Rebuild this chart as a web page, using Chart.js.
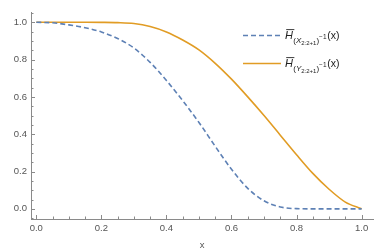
<!DOCTYPE html>
<html>
<head>
<meta charset="utf-8">
<script src="https://cdn.jsdelivr.net/npm/chart.js@4/dist/chart.umd.min.js"></script>
<style>
  html, body { margin: 0; padding: 0; background: #fff; }
  #wrap { width: 377px; height: 252px; position: relative; }
</style>
</head>
<body>
<div id="wrap"><canvas id="c" width="377" height="252"></canvas></div>
<script>
// ---- data ----
const xValues = [0, 0.05, 0.1, 0.15, 0.2, 0.25, 0.3, 0.35, 0.4, 0.45, 0.5, 0.55, 0.6, 0.65, 0.7, 0.75, 0.8, 0.85, 0.9, 0.95, 1.0];
const blueValues = [1.0, 0.997, 0.986, 0.971, 0.948, 0.913, 0.862, 0.785, 0.688, 0.58, 0.463, 0.335, 0.212, 0.11, 0.043, 0.01, 0.001, 0.0, 0.0, 0.0, 0.0];
const orangeValues = [1.0, 1.0, 1.0, 1.0, 0.9995, 0.998, 0.993, 0.977, 0.948, 0.905, 0.852, 0.78, 0.695, 0.60, 0.50, 0.395, 0.29, 0.19, 0.105, 0.036, 0.0];
const xTickValues = [0, 0.2, 0.4, 0.6, 0.8, 1.0];
const yTickValues = [0, 0.2, 0.4, 0.6, 0.8, 1.0];
const xTickLabels = ["0.0", "0.2", "0.4", "0.6", "0.8", "1.0"];
const yTickLabels = ["0.0", "0.2", "0.4", "0.6", "0.8", "1.0"];
const seriesNames = ["X", "Y"];

const BLUE = '#5E81B5';
const ORANGE = '#E19C24';
const AXIS = '#8a8a8a';
const FONT = '"Liberation Sans", Arial, sans-serif';

const toPts = (ys) => xValues.map((x, i) => ({ x: x, y: ys[i] }));

// inward tick marks (Mathematica style)
const tickPlugin = {
  id: 'inwardTicks',
  afterDraw(chart) {
    const ctx = chart.ctx;
    const xs = chart.scales.x, ys = chart.scales.y;
    const ca = chart.chartArea;
    ctx.save();
    ctx.strokeStyle = AXIS;
    ctx.lineWidth = 1;
    const step = 0.05;
    for (let k = -2; k <= 22; k++) {
      const v = +(k * step).toFixed(4);
      const major = Math.abs(v * 5 - Math.round(v * 5)) < 1e-6;
      const len = major ? 4 : 2.5;
      if (v >= xs.min && v <= xs.max) {
        const px = Math.round(xs.getPixelForValue(v)) + 0.5;
        ctx.beginPath();
        ctx.moveTo(px, ca.bottom);
        ctx.lineTo(px, ca.bottom - len);
        ctx.stroke();
      }
      if (v >= ys.min && v <= ys.max) {
        const py = Math.round(ys.getPixelForValue(v)) + 0.5;
        ctx.beginPath();
        ctx.moveTo(ca.left, py);
        ctx.lineTo(ca.left + len, py);
        ctx.stroke();
      }
    }
    ctx.restore();
  }
};

// legend with sub/superscripts
function drawRich(ctx, x, base, letter) {
  const col = '#222';
  ctx.fillStyle = col;
  ctx.strokeStyle = col;
  ctx.textBaseline = 'alphabetic';
  ctx.textAlign = 'left';
  const put = (txt, size, style, dy) => {
    ctx.font = style + ' ' + size + 'px ' + FONT;
    ctx.fillText(txt, x, base + dy);
    const w = ctx.measureText(txt).width;
    x += w;
    return w;
  };
  // H with overbar
  const hx = x;
  const hw = put('H', 11, 'italic', 0);
  ctx.lineWidth = 0.9;
  ctx.beginPath();
  ctx.moveTo(hx + 1.2, base - 9.8);
  ctx.lineTo(hx + hw + 1.4, base - 9.8);
  ctx.stroke();
  x += 0.3;
  put('(', 8, 'normal', 4);
  put(letter, 8, 'italic', 4);
  put('2:2+1', 6, 'normal', 6);
  put(')', 8, 'normal', 4);
  put('\u22121', 6.5, 'normal', -0.5);
  x += 0.8;
  put('(x)', 10.5, 'normal', 0);
}

const legendPlugin = {
  id: 'richLegend',
  afterDraw(chart) {
    const ctx = chart.ctx;
    const ds = chart.data.datasets;
    const rows = [35.5, 63.5];
    ctx.save();
    ds.forEach((d, i) => {
      const y = rows[i];
      ctx.strokeStyle = d.borderColor;
      ctx.lineWidth = d.borderWidth;
      ctx.setLineDash(d.borderDash || []);
      ctx.beginPath();
      ctx.moveTo(243, y);
      ctx.lineTo(281, y);
      ctx.stroke();
      ctx.setLineDash([]);
      drawRich(ctx, 285, y + 3.9, seriesNames[i]);
    });
    ctx.restore();
  }
};

new Chart(document.getElementById('c'), {
  type: 'line',
  data: {
    datasets: [
      {
        label: 'X', data: toPts(blueValues), borderColor: BLUE, borderWidth: 1.6,
        borderDash: [5, 3], pointRadius: 0, fill: false, cubicInterpolationMode: 'monotone'
      },
      {
        label: 'Y', data: toPts(orangeValues), borderColor: ORANGE, borderWidth: 1.6,
        pointRadius: 0, fill: false, cubicInterpolationMode: 'monotone'
      }
    ]
  },
  options: {
    responsive: false,
    animation: false,
    events: [],
    layout: { padding: { top: 12, right: 4, left: 0, bottom: 0 } },
    plugins: { legend: { display: false }, tooltip: { enabled: false } },
    scales: {
      x: {
        type: 'linear', min: -0.0163, max: 1.035,
        grid: { display: false, drawTicks: false },
        border: { display: true, color: AXIS, width: 1 },
        afterBuildTicks: (s) => { s.ticks = xTickValues.map(v => ({ value: v })); },
        afterFit: (s) => { s.height = 33; },
        ticks: {
          color: '#555', font: { family: FONT, size: 9.5 }, padding: 4, maxRotation: 0,
          callback: (v) => xTickLabels[xTickValues.findIndex(t => Math.abs(t - v) < 1e-6)]
        },
        title: { display: true, text: 'x', color: '#555', font: { family: FONT, size: 9.5 }, padding: { top: 0, bottom: 1 } }
      },
      y: {
        type: 'linear', min: -0.0545, max: 1.055,
        grid: { display: false, drawTicks: false },
        border: { display: true, color: AXIS, width: 1 },
        afterBuildTicks: (s) => { s.ticks = yTickValues.map(v => ({ value: v })); },
        afterFit: (s) => { s.width = 31; },
        ticks: {
          color: '#555', font: { family: FONT, size: 9.5 }, padding: 4,
          callback: (v) => yTickLabels[yTickValues.findIndex(t => Math.abs(t - v) < 1e-6)]
        }
      }
    }
  },
  plugins: [tickPlugin, legendPlugin]
});
</script>
</body>
</html>
